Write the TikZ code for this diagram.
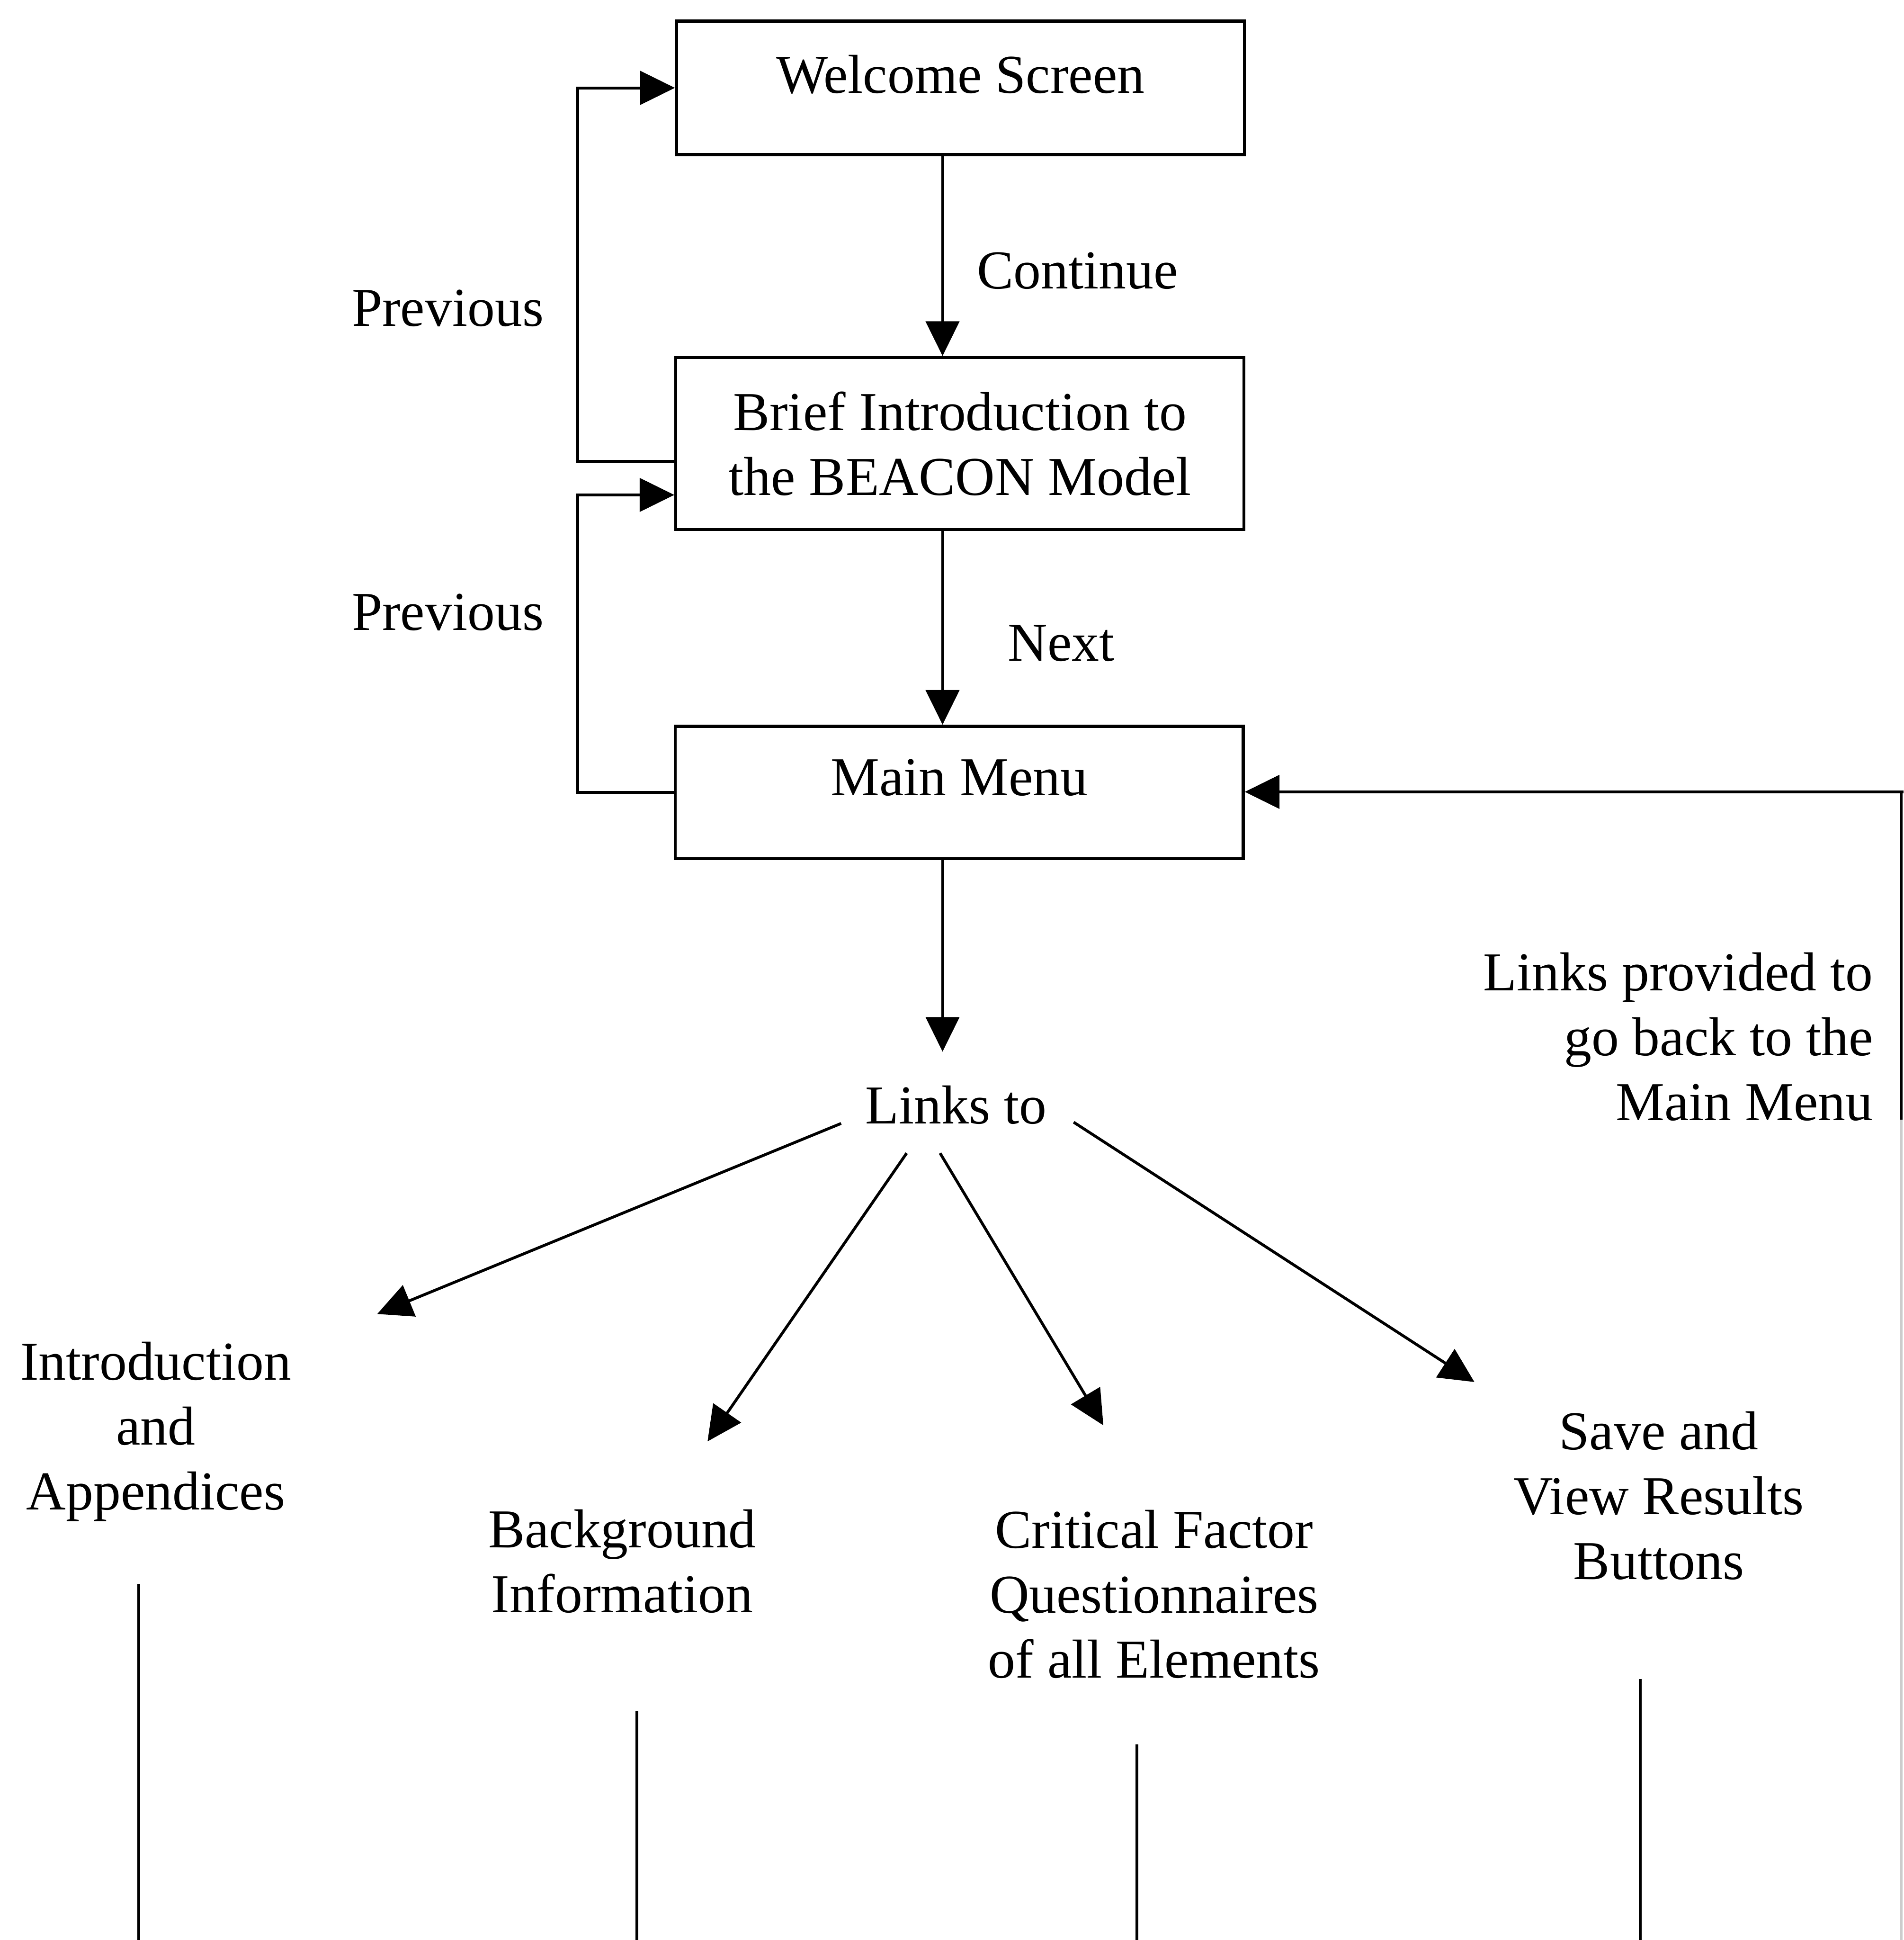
\documentclass[tikz,border=0pt]{standalone}
\usepackage{fontspec}
\setmainfont{Liberation Serif}
\usetikzlibrary{arrows.meta,calc}

\begin{document}
\begin{tikzpicture}[
  x=0.01cm, y=-0.01cm,
  font=\fontsize{12.6pt}{14.9pt}\selectfont,
  screen/.style={draw, line width=0.7pt, inner sep=0pt, align=center,
                 minimum width=4.59cm},
  caption/.style={inner sep=0pt, align=center},
  link/.style={line width=0.65pt},
  arr/.style={link, -{Triangle[length=0.28cm, width=0.27cm]}},
]
\useasboundingbox (0,0) rectangle (1539,1568);

% screens of the navigation sequence
\node[screen, minimum height=1.08cm,
      label={[caption, yshift=0.11cm]center:Welcome Screen}]
      (welcome) at (776.5,71) {};
\node[screen, minimum height=1.39cm]
      (brief) at (776,358.5) {Brief Introduction to\\the BEACON Model};
\node[screen, minimum height=1.07cm,
      label={[caption, yshift=0.12cm]center:Main Menu}]
      (main) at (775.5,640.5) {};

% helper columns for the routing
\coordinate (spine) at (762,0);
\coordinate (loopx) at (467,0);

% forward path
\draw[arr] (welcome.south -| spine) -- (brief.north -| spine);
\node[caption] (continue) at (871,219) {Continue};
\draw[arr] (brief.south -| spine) -- (main.north -| spine);
\node[caption] (next) at (858,520) {Next};

% backward (Previous) loops
\draw[arr] ([yshift=-0.145cm]brief.west) -| (loopx |- welcome.west) -- (welcome.west);
\node[caption] (prev1) at (362,249) {Previous};
\draw[arr] (main.west) -| (loopx |- 0,400) -- (brief.west |- 0,400);
\node[caption] (prev2) at (362,495) {Previous};

% branching from the main menu
\node[caption] (linksto) at (773,893) {Links to};
\draw[arr] (main.south -| spine) -- (spine |- 0,850);

\node[caption] (intro) at (126,1157) {Introduction\\and\\Appendices};
\node[caption] (background) at (503,1262) {Background\\Information};
\node[caption] (critical) at (933,1288.5) {Critical Factor\\Questionnaires\\of all Elements};
\node[caption] (save) at (1341,1209) {Save and\\View Results\\Buttons};

\coordinate (introTip) at (305,1062);
\coordinate (bgTip) at (572,1165);
\coordinate (critTip) at (892,1152);
\coordinate (saveTip) at (1192,1117);

\draw[arr] ($(linksto.center)+(-93,15)$) -- (introTip);
\draw[arr] ($(linksto.center)+(-40,39)$) -- (bgTip);
\draw[arr] ($(linksto.center)+(-13,39)$) -- (critTip);
\draw[arr] ($(linksto.center)+(95,14)$) -- (saveTip);

% return links to the main menu
\node[caption, anchor=east, align=right] (backnote) at (1515,838)
  {Links provided to\\go back to the\\Main Menu};
\coordinate (rtop) at (1537,640);
\coordinate (rmid) at (1537,905);
\coordinate (rbot) at (1537,1568);
\coordinate (redge) at (1539,640);
\draw[link, gray!40] (rbot) -- (rmid);
\draw[link] (rmid) -- (rtop);
\draw[arr] (redge) -- (main.east |- redge);

% continuation lines leaving each section
\coordinate (introOut) at (112,1280);
\coordinate (bgOut) at (515,1383);
\coordinate (critOut) at (919,1410);
\coordinate (saveOut) at (1326,1357);
\draw[link] (introOut) -- (introOut |- rbot);
\draw[link] (bgOut) -- (bgOut |- rbot);
\draw[link] (critOut) -- (critOut |- rbot);
\draw[link] (saveOut) -- (saveOut |- rbot);
\end{tikzpicture}
\end{document}
